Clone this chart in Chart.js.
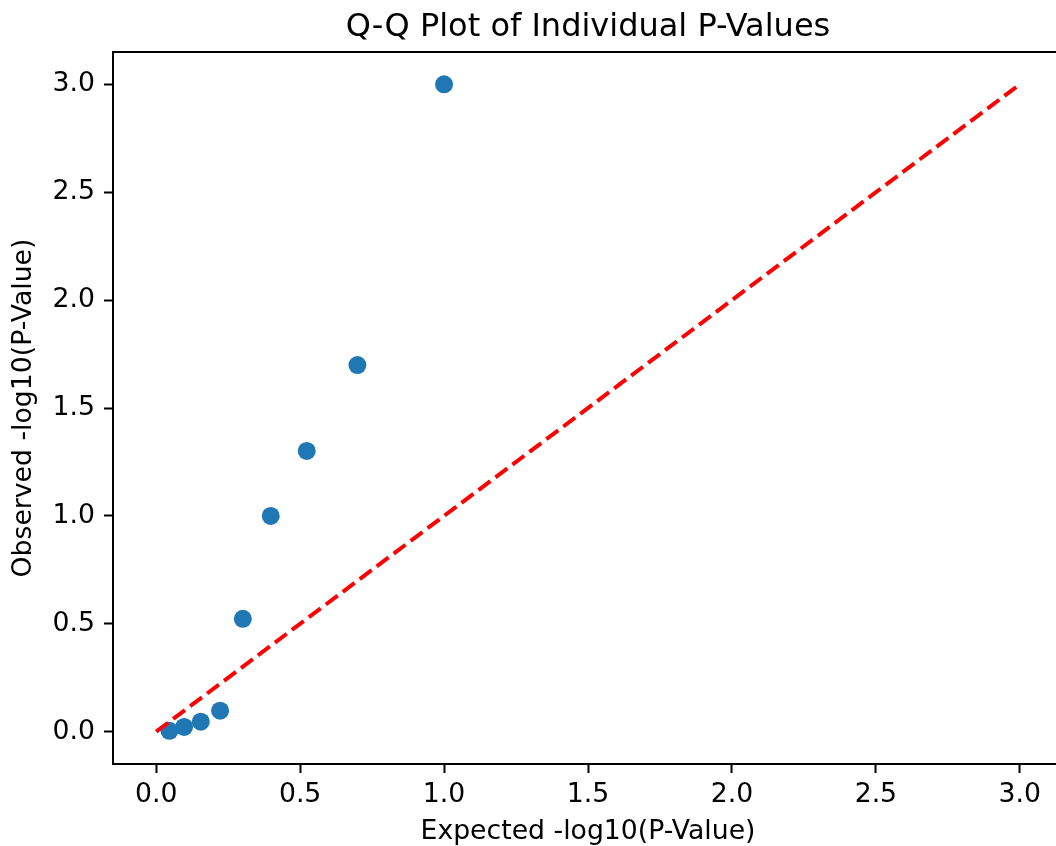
<!DOCTYPE html>
<html>
<head>
<meta charset="utf-8">
<script src="https://cdn.jsdelivr.net/npm/chart.js@4"></script>
<style>
  html, body { margin: 0; padding: 0; background: #fff; overflow: hidden; }
  canvas { display: block; }
</style>
</head>
<body>
<canvas id="c" width="1063" height="846"></canvas>
<script>
// ---- data ----
const expectedVals = [0.046, 0.097, 0.155, 0.222, 0.301, 0.398, 0.523, 0.699, 1.0];
const observedVals = [0.004, 0.022, 0.046, 0.097, 0.523, 1.0, 1.301, 1.699, 3.0];
const refLineX = [0, 3];
const refLineY = [0, 3];
const xTicks = [0.0, 0.5, 1.0, 1.5, 2.0, 2.5, 3.0];
const yTicks = [0.0, 0.5, 1.0, 1.5, 2.0, 2.5, 3.0];
const titleText = 'Q-Q Plot of Individual P-Values';
const xLabel = 'Expected -log10(P-Value)';
const yLabel = 'Observed -log10(P-Value)';

const FONT = 'DejaVu Sans';
const pts = expectedVals.map((x, i) => ({ x: x, y: observedVals[i] }));
const ref = refLineX.map((x, i) => ({ x: x, y: refLineY[i] }));

// frame (top/right spines) and axes-centred title, like matplotlib
const framePlugin = {
  id: 'frame',
  afterDraw(chart) {
    const a = chart.chartArea, ctx = chart.ctx;
    ctx.save();
    ctx.strokeStyle = '#000';
    ctx.lineWidth = 2;
    ctx.beginPath();
    ctx.moveTo(a.left, a.top);
    ctx.lineTo(a.right, a.top);
    ctx.lineTo(a.right, a.bottom);
    ctx.stroke();
    ctx.fillStyle = '#000';
    ctx.font = '32px "' + FONT + '"';
    ctx.textAlign = 'center';
    ctx.textBaseline = 'alphabetic';
    ctx.fillText(titleText, (a.left + a.right) / 2, a.top - 16.3);
    ctx.restore();
  }
};

function axisCommon(ticksArr, titleTxt, titlePad) {
  return {
    type: 'linear',
    min: -0.15,
    max: 3.15,
    afterBuildTicks(scale) { scale.ticks = ticksArr.map(v => ({ value: v })); },
    grid: { display: true, drawOnChartArea: false, drawTicks: true, tickLength: 9, tickWidth: 2, tickColor: '#000', color: '#000' },
    border: { display: true, color: '#000', width: 2 },
    ticks: {
      color: '#000',
      font: { family: FONT, size: 26.7, lineHeight: 1 },
      padding: 9,
      maxRotation: 0,
      autoSkip: false,
      callback: v => Number(v).toFixed(1)
    },
    title: {
      display: true,
      text: titleTxt,
      color: '#000',
      font: { family: FONT, size: 26.7, lineHeight: 1 },
      padding: titlePad
    }
  };
}

const xScale = axisCommon(xTicks, xLabel, { top: 0, bottom: 1 });
xScale.afterFit = s => { s.height = 82; s.paddingLeft = 0; s.paddingRight = 0; };
const yScale = axisCommon(yTicks, yLabel, { top: 10.5, bottom: 0 });
yScale.afterFit = s => { s.width = 113; s.paddingTop = 0; s.paddingBottom = 0; };

new Chart(document.getElementById('c'), {
  type: 'scatter',
  data: {
    datasets: [
      {
        type: 'line',
        label: 'reference',
        data: ref,
        borderColor: '#ff0000',
        borderWidth: 4,
        borderDash: [14.8, 6.4],
        pointRadius: 0,
        tension: 0,
        fill: false,
        order: 0
      },
      {
        type: 'scatter',
        label: 'p-values',
        data: pts,
        backgroundColor: '#1f77b4',
        borderColor: '#1f77b4',
        borderWidth: 0,
        pointRadius: 9,
        pointHoverRadius: 9,
        order: 1
      }
    ]
  },
  options: {
    responsive: false,
    animation: false,
    devicePixelRatio: 1,
    layout: { autoPadding: false, padding: { left: 0, right: 0, top: 52, bottom: 0 } },
    scales: { x: xScale, y: yScale },
    plugins: {
      legend: { display: false },
      tooltip: { enabled: false },
      title: { display: false }
    }
  },
  plugins: [framePlugin]
});
</script>
</body>
</html>
